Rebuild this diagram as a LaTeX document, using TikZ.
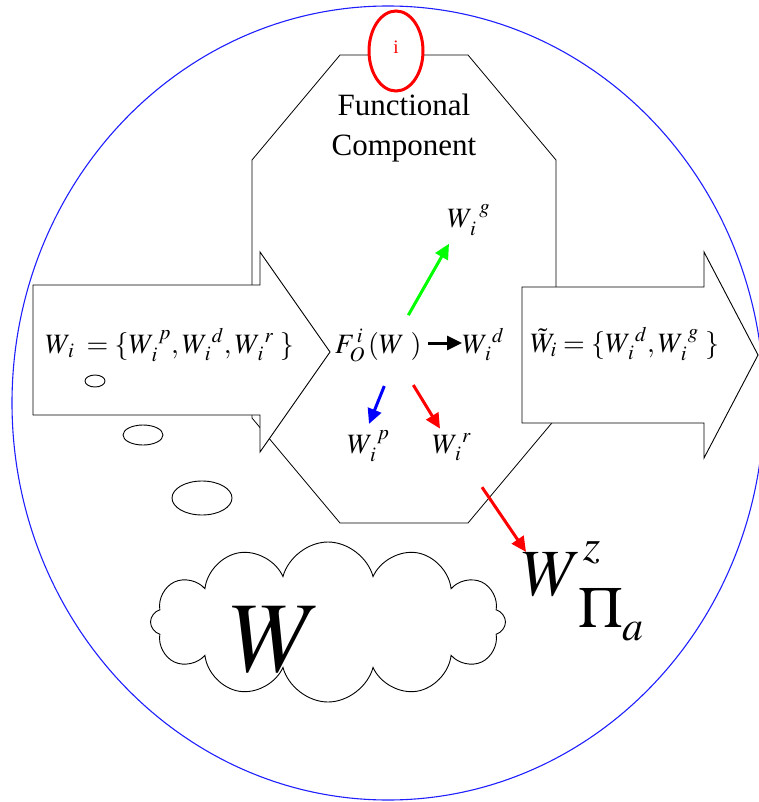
\documentclass[tikz,border=0pt]{standalone}
\usepackage{mathptmx}
\usepackage{fontspec}
\setmainfont{Liberation Serif}
\usetikzlibrary{shapes.symbols, shapes.geometric, arrows.meta, positioning}
\definecolor{ringblue}{RGB}{30, 30, 255}
\definecolor{flowred}{RGB}{255, 0, 0}
\definecolor{flowgreen}{RGB}{0, 255, 0}
\definecolor{flowblue}{RGB}{0, 0, 255}

\begin{document}
\begin{tikzpicture}[x=1pt, y=-1pt, >={Triangle[length=15pt,width=14pt]},
  every node/.style={inner sep=0pt, font=\fontsize{28}{30}\selectfont},
  flow/.style={->, line width=3pt},
  bubble/.style={draw, line width=0.9pt}]
\useasboundingbox (0,0) rectangle (759,802);

% Outer ring
\draw[ringblue, line width=1.1pt] (388,403) ellipse [x radius=376pt, y radius=397pt];

% Functional component outline
\draw[line width=0.8pt] (340,55) -- (468,55) -- (556,160) -- (556,418) -- (468,523)
  -- (340,523) -- (252,418) -- (252,160) -- cycle;

% Input and output arrows
\draw[line width=0.9pt, fill=white] (33,285) -- (260,285) -- (260,252) -- (330,352)
  -- (260,452) -- (260,415) -- (33,415) -- cycle;
\draw[line width=0.9pt, fill=white] (522,287) -- (704,287) -- (704,252) -- (758,355)
  -- (704,458) -- (704,423) -- (522,423) -- cycle;

% Thought bubbles
\draw[bubble] (95,381) ellipse [x radius=10pt, y radius=6pt];
\draw[bubble] (143,435) ellipse [x radius=20pt, y radius=10pt];
\draw[bubble] (202,498) ellipse [x radius=30pt, y radius=17pt];
\node[cloud, draw, line width=0.9pt, cloud puffs=12, cloud ignores aspect,
  minimum width=355pt, minimum height=160pt] (wcloud) at (328,622) {};
\node[font=\fontsize{100}{100}\selectfont] (wbig) at (276,640) {$W$};

% Component tag
\node[ellipse, draw=flowred, line width=3pt, fill=white, minimum width=54pt,
  minimum height=80pt] (tag) at (396,51) {};
\node[text=flowred, font=\fontsize{19}{20}\selectfont] (tagi) at (396,47) {i};
\node[align=center, font=\fontsize{31}{40}\selectfont] (fc) at (404,128)
  {Functional\\Component};

% Sets
\node[anchor=base west] (win) at (45,353)
  {$W_{\,i}\;=\{W_{\,i}^{\;p},W_{\,i}^{\;d},W_{\,i}^{\;r}\;\}$};
\node[anchor=base west] (wout) at (530,352)
  {$\tilde{W}_{i}=\{W_{\,i}^{\;d},W_{\,i}^{\;g}\;\}$};

% Function and its parts
\node[anchor=base west] (F) at (335,353) {$F_{O}^{\,i}\,(W\;)$};
\node[anchor=base west] (Wd) at (462,353) {$W_{\,i}^{\;d}$};
\node[anchor=base west] (Wg) at (447,227) {$W_{\,i}^{\;\,g}$};
\node[anchor=base west] (Wp) at (347,453) {$W_{\,i}^{\;p}$};
\node[anchor=base west] (Wr) at (432,453) {$W_{\,i}^{\;r}$};

\node[anchor=base west, font=\fontsize{66}{70}\selectfont] (wz) at (522,595) {$W$};
\node[anchor=base west, font=\fontsize{44}{48}\selectfont] (zsup) at (583,560) {$z$};
\node[anchor=base west, font=\fontsize{58}{62}\selectfont] (pia) at (578,627)
  {$\Pi$\raisebox{-13pt}{\fontsize{42}{46}\selectfont$a$}};

\draw[flow, shorten <=6pt] ([yshift=10pt]F.base east) -- ([yshift=10pt]Wd.base west);
\draw[flow, flowgreen] ([xshift=30pt,yshift=14pt]F.north) -- ([xshift=2pt,yshift=-8pt]Wg.south west);
\draw[flow, flowblue] ([xshift=6pt,yshift=-24pt]F.south) -- ([xshift=22pt,yshift=6pt]Wp.north west);
\draw[flow, flowred] ([xshift=35pt,yshift=-23pt]F.south) -- ([xshift=8pt,yshift=5pt]Wr.north west);
\draw[flow, flowred] ([xshift=50pt,yshift=-26pt]Wr.south west) -- ([xshift=4pt]wz.north west);
\end{tikzpicture}
\end{document}
